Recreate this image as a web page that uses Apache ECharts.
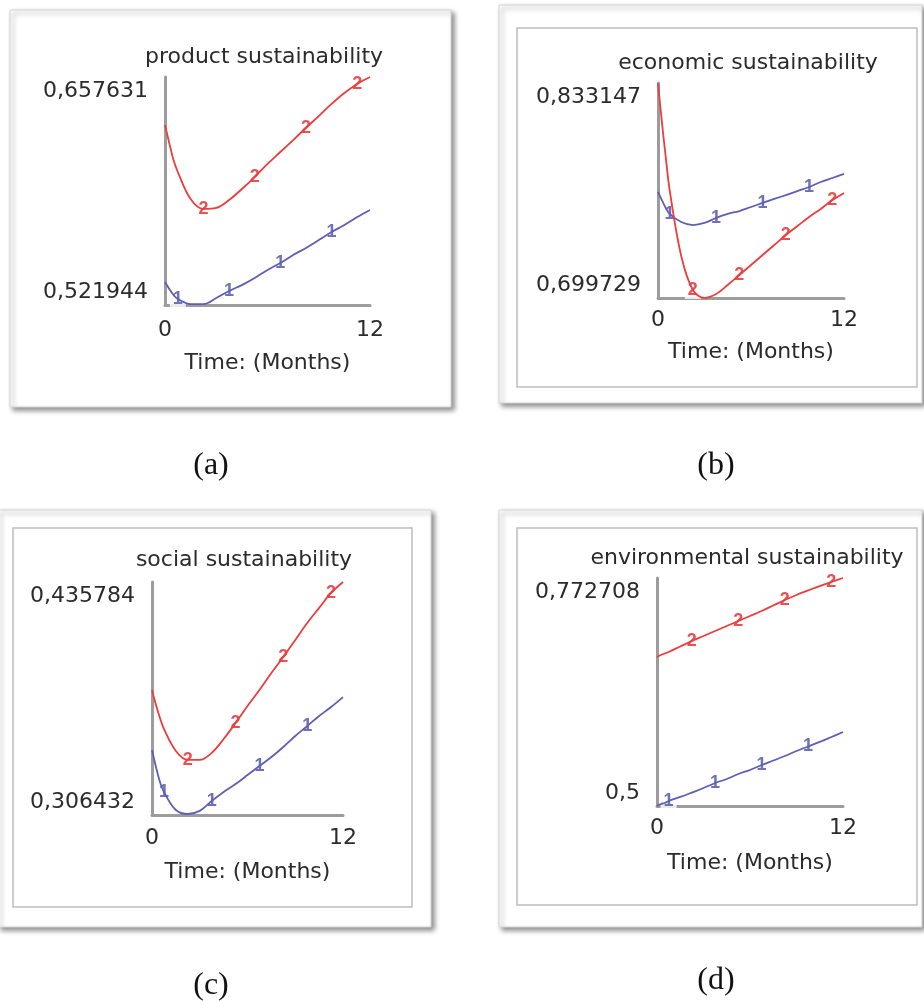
<!DOCTYPE html>
<html>
<head>
<meta charset="utf-8">
<script src="https://cdn.jsdelivr.net/npm/echarts@6/dist/echarts.min.js"></script>
<style>
  html, body { margin: 0; padding: 0; background: #fff; }
  #main { width: 924px; height: 1001px; }
</style>
</head>
<body>
<div id="main"></div>
<script>
// time samples (months), shared by all series
const months = [0, 0.25, 0.5, 0.75, 1.5, 2.25, 3, 3.75, 4.5, 5.25, 6, 6.75, 7.5, 8.25, 9, 9.75, 10.5, 11.25, 12]
// indices of months where the "1" / "2" markers sit
const marks1 = [3, 7, 11, 15]
const marks2 = [5, 9, 13, 17]

// (a) product sustainability
const productLine1 = [0.5356, 0.5315, 0.5279, 0.5255, 0.5225, 0.5225, 0.5261, 0.5303, 0.5338, 0.5380, 0.5428, 0.5469, 0.5517, 0.5559, 0.5606, 0.5654, 0.5696, 0.5743, 0.5785]
const productLine2 = [0.6291, 0.6183, 0.6082, 0.6011, 0.5850, 0.5791, 0.5797, 0.5844, 0.5910, 0.5981, 0.6059, 0.6130, 0.6201, 0.6273, 0.6344, 0.6416, 0.6481, 0.6535, 0.6576]
// (b) economic sustainability
const economicLine1 = [0.7655, 0.7605, 0.7556, 0.7519, 0.7469, 0.7450, 0.7463, 0.7494, 0.7519, 0.7537, 0.7562, 0.7587, 0.7612, 0.7636, 0.7661, 0.7686, 0.7717, 0.7742, 0.7767]
const economicLine2 = [0.8331, 0.8090, 0.7872, 0.7668, 0.7258, 0.7047, 0.6998, 0.7022, 0.7078, 0.7140, 0.7202, 0.7264, 0.7326, 0.7388, 0.7444, 0.7500, 0.7550, 0.7605, 0.7649]
// (c) social sustainability
const socialLine1 = [0.3425, 0.3331, 0.3248, 0.3192, 0.3092, 0.3070, 0.3087, 0.3142, 0.3192, 0.3236, 0.3286, 0.3336, 0.3386, 0.3442, 0.3503, 0.3558, 0.3614, 0.3664, 0.3719]
const socialLine2 = [0.3758, 0.3675, 0.3603, 0.3542, 0.3420, 0.3370, 0.3370, 0.3409, 0.3486, 0.3575, 0.3669, 0.3758, 0.3853, 0.3942, 0.4036, 0.4130, 0.4214, 0.4297, 0.4358]
// (d) environmental sustainability
const envLine1 = [0.5, 0.5024, 0.5036, 0.5060, 0.5108, 0.5161, 0.5215, 0.5275, 0.5323, 0.5383, 0.5431, 0.5490, 0.5544, 0.5598, 0.5658, 0.5712, 0.5766, 0.5825, 0.5885]
const envLine2 = [0.6782, 0.6806, 0.6824, 0.6842, 0.6908, 0.6974, 0.7033, 0.7093, 0.7153, 0.7213, 0.7273, 0.7332, 0.7398, 0.7464, 0.7524, 0.7578, 0.7631, 0.7679, 0.7727]

const titles = ['product sustainability', 'economic sustainability', 'social sustainability', 'environmental sustainability']
const captions = ['(a)', '(b)', '(c)', '(d)']
const yMin = [0.521944, 0.699729, 0.306432, 0.5]
const yMax = [0.657631, 0.833147, 0.435784, 0.772708]
const xTicks = [0, 12]
const xName = 'Time: (Months)'

const line1 = [productLine1, economicLine1, socialLine1, envLine1]
const line2 = [productLine2, economicLine2, socialLine2, envLine2]

// layout of the four panels
const grids = [
  { left: 165, top: 77, width: 205, height: 228 },
  { left: 658, top: 83, width: 186, height: 215 },
  { left: 152, top: 582, width: 191, height: 233 },
  { left: 657, top: 578, width: 186, height: 228 }
]
const titlePos = [[264, 57], [748, 63], [244, 560], [747, 558]]
const captionPos = [[211, 466], [716, 466], [211, 986], [716, 981]]
const nameGaps = [47, 43, 46, 46]
const xMargins = [14, 11, 12, 11]

const FONT = 'DejaVu Sans'
const TXT = '#2b2b2b'
const AXIS = '#9c9c9c'
const RED = '#ec3c3c'
const BLUE = '#5e5eb4'

const fmt = v => String(v).replace('.', ',')

const xAxes = grids.map((g, i) => ({
  gridIndex: i,
  type: 'value',
  min: 0,
  max: 12,
  interval: 12,
  name: xName,
  nameLocation: 'middle',
  nameGap: nameGaps[i],
  nameTextStyle: { fontFamily: FONT, fontSize: 22, color: TXT },
  axisLine: { show: true, onZero: false, lineStyle: { color: AXIS, width: 3 } },
  axisTick: { show: false },
  splitLine: { show: false },
  axisLabel: {
    customValues: xTicks,
    margin: xMargins[i],
    fontFamily: FONT, fontSize: 22, color: TXT
  }
}))

const yAxes = grids.map((g, i) => ({
  gridIndex: i,
  type: 'value',
  min: yMin[i],
  max: yMax[i],
  axisLine: { show: true, onZero: false, lineStyle: { color: AXIS, width: 3 } },
  axisTick: { show: false },
  splitLine: { show: false },
  axisLabel: {
    customValues: [yMin[i], yMax[i]],
    margin: 17,
    fontFamily: FONT, fontSize: 22, color: TXT,
    formatter: function (v) {
      return Math.abs(v - yMax[i]) < 1e-9 ? '{hi|' + fmt(v) + '}' : '{lo|' + fmt(v) + '}'
    },
    rich: {
      hi: { fontFamily: FONT, fontSize: 22, color: TXT, padding: [28, 0, 0, 0] },
      lo: { fontFamily: FONT, fontSize: 22, color: TXT, padding: [0, 0, 26, 0] }
    }
  }
}))

const series = []
grids.forEach((g, i) => {
  const pairs = arr => months.map((t, k) => [t, arr[k]])
  series.push({
    type: 'line', xAxisIndex: i, yAxisIndex: i,
    data: pairs(line1[i]), smooth: 0.35, symbol: 'none',
    lineStyle: { color: BLUE, width: 1.8 }
  })
  series.push({
    type: 'line', xAxisIndex: i, yAxisIndex: i,
    data: pairs(line2[i]), smooth: 0.35, symbol: 'none',
    lineStyle: { color: RED, width: 1.8 }
  })
  series.push({
    type: 'scatter', xAxisIndex: i, yAxisIndex: i,
    data: marks1.map(k => [months[k], line1[i][k]]),
    symbolSize: 1, itemStyle: { color: 'transparent' },
    label: {
      show: true, position: 'inside', formatter: '1',
      fontFamily: 'Liberation Sans', fontSize: 18, fontWeight: 'bold', color: '#4e4ea6',
      backgroundColor: '#fff', padding: [0, 3]
    }
  })
  series.push({
    type: 'scatter', xAxisIndex: i, yAxisIndex: i,
    data: marks2.map(k => [months[k], line2[i][k]]),
    symbolSize: 1, itemStyle: { color: 'transparent' },
    label: {
      show: true, position: 'inside', formatter: '2',
      fontFamily: 'Liberation Sans', fontSize: 18, fontWeight: 'bold', color: '#e22428',
      backgroundColor: '#fff', padding: [0, 3]
    }
  })
})

// panel frames
const frameStyle = {
  fill: '#fff', stroke: '#d4d4d4', lineWidth: 1,
  shadowBlur: 5, shadowOffsetX: 3, shadowOffsetY: 3, shadowColor: 'rgba(0,0,0,0.45)'
}
const innerStyle = { fill: 'none', stroke: '#bdbdbd', lineWidth: 1.5 }
const graphic = [
  { type: 'rect', z: -10, shape: { x: 10, y: 10, width: 441, height: 397 }, style: frameStyle },
  { type: 'rect', z: -10, shape: { x: 499, y: 5, width: 423, height: 398 }, style: frameStyle },
  { type: 'rect', z: -9, shape: { x: 517, y: 28, width: 400, height: 359 }, style: innerStyle },
  { type: 'rect', z: -10, shape: { x: -2, y: 510, width: 433, height: 417 }, style: frameStyle },
  { type: 'rect', z: -9, shape: { x: 13, y: 528, width: 399, height: 379 }, style: innerStyle },
  { type: 'rect', z: -10, shape: { x: 499, y: 510, width: 423, height: 417 }, style: frameStyle },
  { type: 'rect', z: -9, shape: { x: 517, y: 528, width: 400, height: 377 }, style: innerStyle }
]
titles.forEach((t, i) => {
  graphic.push({
    type: 'text', z: 10, x: titlePos[i][0], y: titlePos[i][1],
    style: { text: t, fontFamily: FONT, fontSize: 22, fill: TXT, align: 'center', verticalAlign: 'middle' }
  })
})
captions.forEach((t, i) => {
  graphic.push({
    type: 'text', z: 10, x: captionPos[i][0], y: captionPos[i][1],
    style: { text: t, fontFamily: 'Liberation Serif', fontSize: 32, fill: '#111', align: 'center', verticalAlign: 'middle' }
  })
})

const chart = echarts.init(document.getElementById('main'))
chart.setOption({
  backgroundColor: '#fff',
  animation: false,
  grid: grids,
  xAxis: xAxes,
  yAxis: yAxes,
  graphic: graphic,
  series: series
})
</script>
</body>
</html>
